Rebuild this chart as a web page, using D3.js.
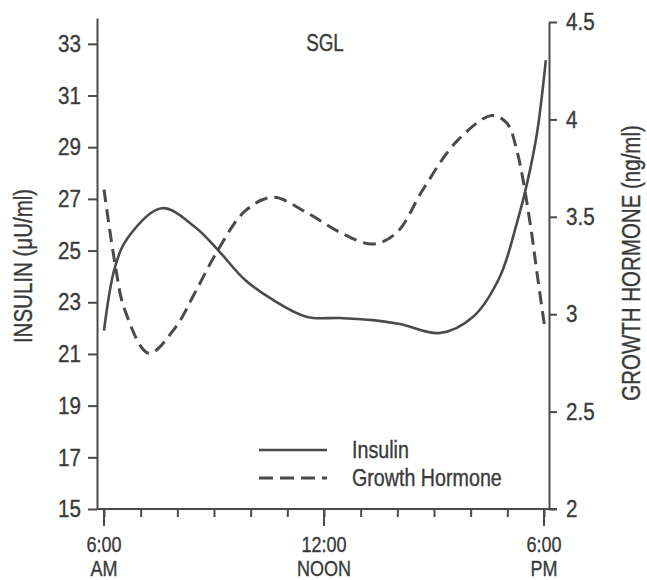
<!DOCTYPE html>
<html>
<head>
<meta charset="utf-8">
<script src="https://cdn.jsdelivr.net/npm/d3@7"></script>
<style>
    body { margin: 0; background: #fff; }
    text { font-family: "Liberation Sans", Arial, sans-serif; fill: #3a3a3a; stroke: #3a3a3a; stroke-width: 0.35px; }
</style>
</head>
<body>
<script>
// hours of the day (6 = 6:00 AM, 18 = 6:00 PM)
const insulinHours = [6.0, 6.30, 6.65, 7.58, 8.48, 9.11, 9.85, 10.61, 11.54, 12.44, 13.34, 14.07, 15.16, 16.06, 16.79, 17.26, 17.54, 17.81, 18.05];
const insulinValues = [21.9, 24.36, 25.5, 26.64, 25.91, 25.02, 23.86, 23.09, 22.43, 22.39, 22.31, 22.16, 21.81, 22.43, 23.97, 26.06, 27.61, 29.55, 32.37];

const ghHours = [6.0, 6.30, 6.57, 7.22, 7.94, 8.48, 9.11, 9.85, 10.61, 11.54, 12.44, 13.34, 13.99, 14.70, 15.63, 16.58, 16.99, 17.26, 17.62, 17.81, 18.03];
const ghValues = [3.64, 3.26, 3.02, 2.80, 2.93, 3.11, 3.33, 3.53, 3.60, 3.52, 3.42, 3.36, 3.42, 3.64, 3.89, 4.02, 3.98, 3.84, 3.47, 3.21, 2.92];

const insulinTicks = [15, 17, 19, 21, 23, 25, 27, 29, 31, 33];
const ghTicks = [2, 2.5, 3, 3.5, 4, 4.5];
const hourTicks = [6, 7, 8, 9, 10, 11, 12, 13, 14, 15, 16, 17, 18];
const majorHours = [6, 12, 18];
const majorLabels = [["6:00", "AM"], ["12:00", "NOON"], ["6:00", "PM"]];

const svgWidth = 647;
const svgHeight = 580;

const leftX = 97;
const rightX = 549;
const baseY = 509;
const narrow = 0.82;   // squeeze text horizontally, the original face is condensed

const x = d3.scaleLinear().domain([6, 18]).range([104, 544]);
const yIns = d3.scaleLinear().domain([15, 34]).range([baseY, 18]);
const yGh = d3.scaleLinear().domain([2, 4.5]).range([baseY, 22]);

const ink = "#4a4a4a";

const svg = d3.select("body")
    .append("svg")
    .attr("width", svgWidth)
    .attr("height", svgHeight);

// left axis
const gLeft = svg.append("g")
    .attr("transform", `translate(${leftX},0)`)
    .call(d3.axisLeft(yIns).tickValues(insulinTicks).tickFormat(d3.format("d"))
        .tickSize(9).tickSizeOuter(0).tickPadding(7));

// right axis
const gRight = svg.append("g")
    .attr("transform", `translate(${rightX},0)`)
    .call(d3.axisRight(yGh).tickValues(ghTicks).tickFormat(d => d)
        .tickSize(8).tickSizeOuter(0).tickPadding(9));

// bottom axis: hourly minor ticks
const gBottom = svg.append("g")
    .attr("transform", `translate(0,${baseY})`)
    .call(d3.axisBottom(x).tickValues(hourTicks).tickFormat("").tickSize(8).tickSizeOuter(0));
gBottom.select(".domain").remove();

gBottom.selectAll(null)
    .data(majorHours)
    .join("line")
    .attr("x1", d => x(d))
    .attr("x2", d => x(d))
    .attr("y1", 0)
    .attr("y2", 17);

gBottom.append("line")
    .attr("x1", leftX)
    .attr("x2", rightX + 8)
    .attr("y1", 0)
    .attr("y2", 0);

const tickNarrow = 0.86;
[gLeft, gRight, gBottom].forEach(g => {
    g.attr("font-size", null).attr("font-family", null);
    g.selectAll("path, line").attr("stroke", ink).attr("stroke-width", 2);
    g.selectAll("text")
        .style("font-size", "24px")
        .attr("fill", "#3a3a3a")
        .attr("x", function() { return (+d3.select(this).attr("x") || 0) / tickNarrow; })
        .attr("transform", `scale(${tickNarrow},1)`);
});

const majorText = gBottom.selectAll(null)
    .data(majorHours)
    .join("text")
    .attr("text-anchor", "middle")
    .style("font-size", "22px")
    .attr("transform", d => `translate(${x(d)},0) scale(0.82,1)`);
majorText.append("tspan").attr("x", 0).attr("y", 43).text((d, i) => majorLabels[i][0]);
majorText.append("tspan").attr("x", 0).attr("y", 67).text((d, i) => majorLabels[i][1]);

// axis titles
svg.append("text")
    .attr("transform", `translate(32,266) rotate(-90) scale(${narrow},1)`)
    .attr("text-anchor", "middle")
    .style("font-size", "25px")
    .text("INSULIN (μU/ml)");

svg.append("text")
    .attr("transform", `translate(640,263) rotate(-90) scale(${narrow},1)`)
    .attr("text-anchor", "middle")
    .style("font-size", "25px")
    .text("GROWTH HORMONE (ng/ml)");

svg.append("text")
    .attr("transform", `translate(325,51) scale(${narrow},1)`)
    .attr("text-anchor", "middle")
    .style("font-size", "23px")
    .text("SGL");

// curves
const insulin = insulinHours.map((h, i) => ({h: h, v: insulinValues[i]}));
const gh = ghHours.map((h, i) => ({h: h, v: ghValues[i]}));

svg.append("path")
    .datum(insulin)
    .attr("fill", "none")
    .attr("stroke", ink)
    .attr("stroke-width", 2.6)
    .attr("d", d3.line().curve(d3.curveCatmullRom.alpha(0.5)).x(d => x(d.h)).y(d => yIns(d.v)));

svg.append("path")
    .datum(gh)
    .attr("fill", "none")
    .attr("stroke", ink)
    .attr("stroke-width", 3)
    .attr("stroke-dasharray", "13,7")
    .attr("d", d3.line().curve(d3.curveCatmullRom.alpha(0.5)).x(d => x(d.h)).y(d => yGh(d.v)));

// legend
const legendItems = [{name: "Insulin", dash: null, w: 2.6}, {name: "Growth Hormone", dash: "14,7", w: 3}];
const legendG = svg.selectAll(null)
    .data(legendItems)
    .join("g")
    .attr("transform", (d, i) => `translate(259,${450 + i * 28})`);
legendG.append("line")
    .attr("x1", 0).attr("x2", 68)
    .attr("stroke", ink)
    .attr("stroke-width", d => d.w)
    .attr("stroke-dasharray", d => d.dash);
legendG.append("text")
    .attr("transform", `translate(93,8) scale(${narrow},1)`)
    .style("font-size", "24px")
    .text(d => d.name);
</script>
</body>
</html>
